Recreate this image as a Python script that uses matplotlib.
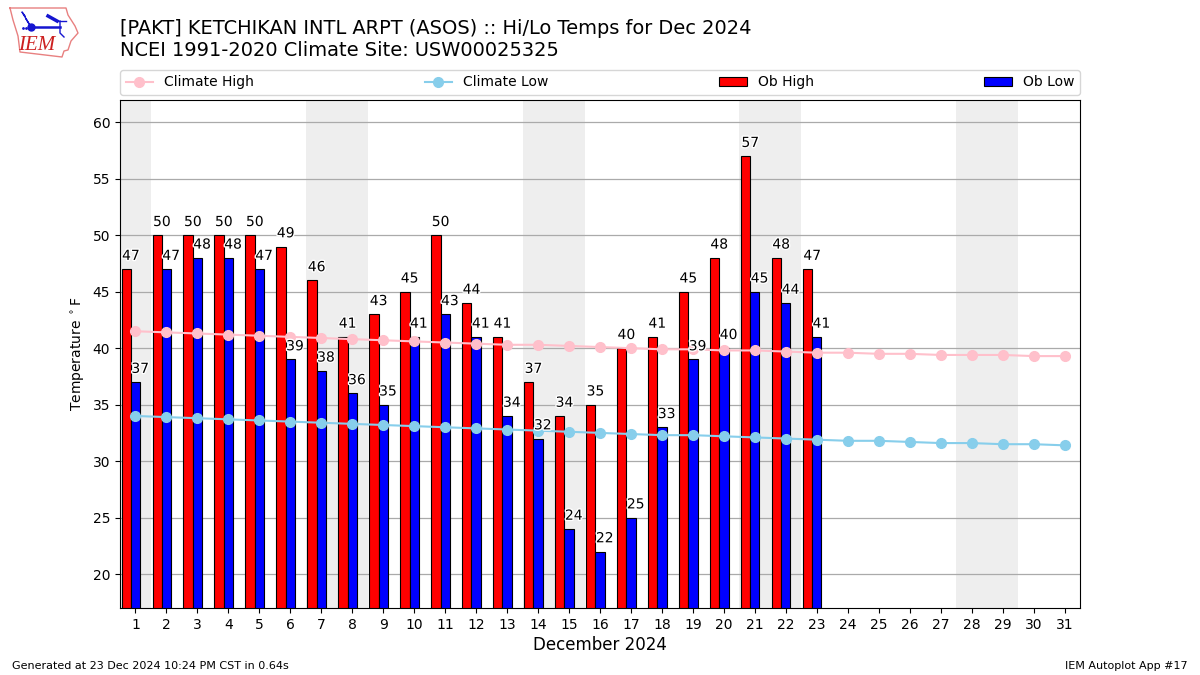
import numpy as np
import matplotlib
matplotlib.use("Agg")
import matplotlib.pyplot as plt
import matplotlib.patheffects as pe

TITLE_1 = "[PAKT] KETCHIKAN INTL ARPT (ASOS) :: Hi/Lo Temps for Dec 2024"
TITLE_2 = "NCEI 1991-2020 Climate Site: USW00025325"
days = list(range(1, 32))
ob_days = list(range(1, 24))
ob_high = [47, 50, 50, 50, 50, 49, 46, 41, 43, 45, 50, 44, 41, 37, 34, 35, 40, 41, 45, 48, 57, 48, 47]
ob_low = [37, 47, 48, 48, 47, 39, 38, 36, 35, 41, 43, 41, 34, 32, 24, 22, 25, 33, 39, 40, 45, 44, 41]
climate_high = [41.5, 41.4, 41.3, 41.2, 41.1, 41.0, 40.9, 40.8, 40.7, 40.6, 40.5, 40.4, 40.3, 40.3, 40.2, 40.1,
                40.0, 39.9, 39.9, 39.8, 39.8, 39.7, 39.6, 39.6, 39.5, 39.5, 39.4, 39.4, 39.4, 39.3, 39.3]
climate_low = [34.0, 33.9, 33.8, 33.7, 33.6, 33.5, 33.4, 33.3, 33.2, 33.1, 33.0, 32.9, 32.8, 32.7, 32.6, 32.5,
               32.4, 32.3, 32.3, 32.2, 32.1, 32.0, 31.9, 31.8, 31.8, 31.7, 31.6, 31.6, 31.5, 31.5, 31.4]
weekend_spans = [(0.5, 1.5), (6.5, 8.5), (13.5, 15.5), (20.5, 22.5), (27.5, 29.5)]

fig = plt.figure(figsize=(12, 6.75), dpi=100)
ax = fig.add_axes([0.1, 1 - 608 / 675, 0.8, 508 / 675])

for a, b in weekend_spans:
    ax.axvspan(a, b, color="#EEEEEE", zorder=0, lw=0)
ax.grid(True, axis="y", color="#aaaaaa", lw=0.9, zorder=1)
ax.set_axisbelow(True)

ox = np.array(ob_days)
ax.bar(ox - 0.3, ob_high, width=0.3, color="red", edgecolor="k", lw=0.8, label="Ob High", zorder=2)
ax.bar(ox, ob_low, width=0.3, color="blue", edgecolor="k", lw=0.8, label="Ob Low", zorder=2)
ax.plot(days, climate_high, color="pink", marker="o", ms=7, lw=1.5, label="Climate High", zorder=3)
ax.plot(days, climate_low, color="skyblue", marker="o", ms=7, lw=1.5, label="Climate Low", zorder=3)

stroke = [pe.withStroke(linewidth=2, foreground="white")]
for d, h, l in zip(ob_days, ob_high, ob_low):
    ax.text(d - 0.15, h + 0.55, str(h), ha="center", va="bottom", fontsize=10, zorder=4, path_effects=stroke)
    ax.text(d + 0.15, l + 0.55, str(l), ha="center", va="bottom", fontsize=10, zorder=4, path_effects=stroke)

ax.set_xlim(0.5, 31.5)
ax.set_ylim(17, 61.97)
ax.set_xticks(days)
ax.set_yticks(range(20, 61, 5))
ax.set_xlabel("December 2024", fontsize=12, labelpad=3)
ax.set_ylabel(r"Temperature $^\circ$F")

handles, labels = ax.get_legend_handles_labels()
order = [labels.index(n) for n in ("Climate High", "Climate Low", "Ob High", "Ob Low")]
ax.legend([handles[i] for i in order], [labels[i] for i in order], ncol=4, mode="expand",
          loc="lower left", bbox_to_anchor=(0, 1 + 5 / 508, 1, 0.05), borderaxespad=0, fontsize=10)

fig.text(120 / 1200, 1 - 29 / 675, TITLE_1, fontsize=13.98, va="center")
fig.text(120 / 1200, 1 - 50 / 675, TITLE_2, fontsize=13.98, va="center")
fig.text(12 / 1200, 1 - 666 / 675, "Generated at 23 Dec 2024 10:24 PM CST in 0.64s", fontsize=8, va="center")
fig.text(1188 / 1200, 1 - 666 / 675, "IEM Autoplot App #17", fontsize=8, va="center", ha="right")

# Decorative logo, drawn in figure pixel space
logo = fig.add_axes([0, 0, 1, 1], facecolor="none")
logo.set_xlim(0, 1200)
logo.set_ylim(675, 0)
logo.axis("off")
logo.plot([10, 66, 68, 75, 78, 71, 68, 64, 62, 20, 18, 13, 10],
          [8, 8, 15, 26, 33, 41, 50, 51, 57, 52, 36, 20, 8], color="#e88080", lw=1)
logo.plot([31, 60], [27, 27], color="#1515d0", lw=1.8)
logo.plot([31], [27], "o", color="#1515d0", ms=5)
logo.plot([26, 31, 22, 25], [19, 27, 12, 16], color="#1515d0", lw=1)
logo.plot([48, 57], [16, 21], color="#1515d0", lw=2.5)
logo.plot([57, 66], [21, 21], color="#1515d0", lw=1)
logo.plot([60, 60, 64], [21, 33, 37], color="#1515d0", lw=1)
logo.plot([23, 26], [28, 28], ".", color="#1515d0", ms=2)
logo.text(37, 45, "IEM", color="#cc2020", fontsize=15, family="Liberation Serif", style="italic",
          ha="center", va="center")

fig.savefig("out.png", dpi=100)
